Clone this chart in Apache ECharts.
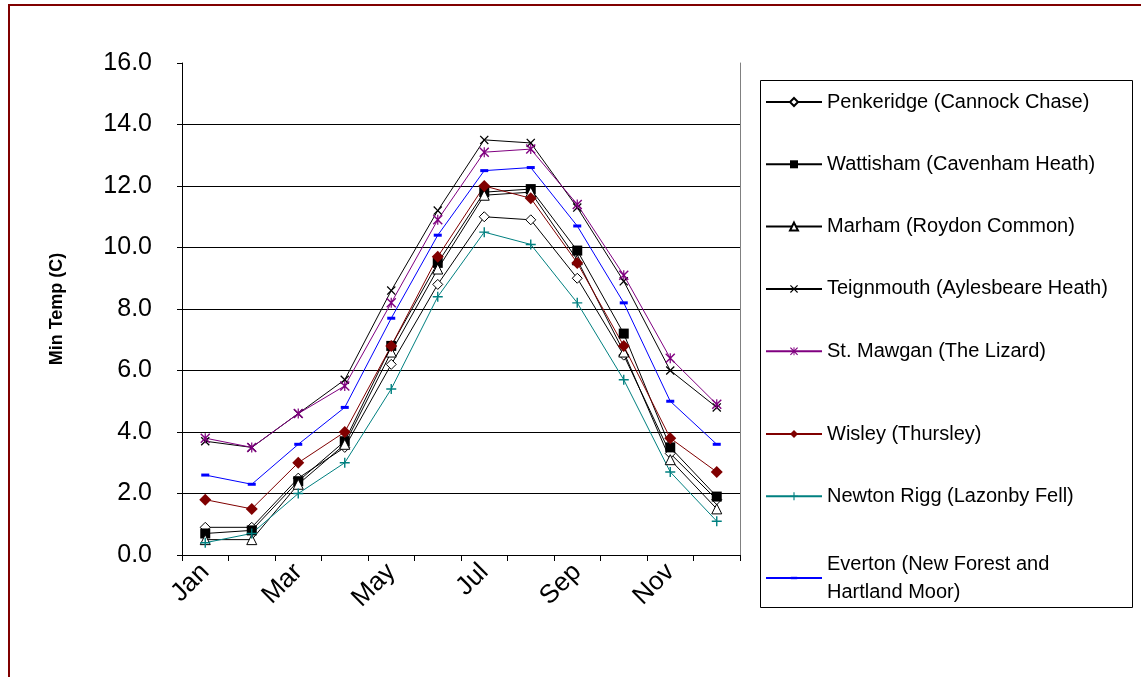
<!DOCTYPE html>
<html>
<head>
<meta charset="utf-8">
<script src="https://cdn.jsdelivr.net/npm/echarts@6/dist/echarts.min.js"></script>
<style>
  html, body { margin: 0; padding: 0; background: #fff; }
  #main { width: 1141px; height: 677px; }
</style>
</head>
<body>
<div id="main"></div>
<script>
// months on the x axis
var months = ['Jan', 'Feb', 'Mar', 'Apr', 'May', 'Jun', 'Jul', 'Aug', 'Sep', 'Oct', 'Nov', 'Dec'];

// monthly minimum temperature (C)
var penkeridge = [0.9, 0.9, 2.5, 3.5, 6.2, 8.8, 11.0, 10.9, 9.0, 6.5, 3.3, 1.8];
var wattisham  = [0.7, 0.8, 2.4, 3.7, 6.8, 9.5, 11.8, 11.9, 9.9, 7.2, 3.5, 1.9];
var marham     = [0.5, 0.5, 2.3, 3.6, 6.6, 9.3, 11.7, 11.8, 9.6, 6.6, 3.1, 1.5];
var teignmouth = [3.7, 3.5, 4.6, 5.7, 8.6, 11.2, 13.5, 13.4, 11.3, 8.9, 6.0, 4.8];
var stMawgan   = [3.8, 3.5, 4.6, 5.5, 8.2, 10.9, 13.1, 13.2, 11.4, 9.1, 6.4, 4.9];
var wisley     = [1.8, 1.5, 3.0, 4.0, 6.8, 9.7, 12.0, 11.6, 9.5, 6.8, 3.8, 2.7];
var newtonRigg = [0.4, 0.7, 2.0, 3.0, 5.4, 8.4, 10.5, 10.1, 8.2, 5.7, 2.7, 1.1];
var everton    = [2.6, 2.3, 3.6, 4.8, 7.7, 10.4, 12.5, 12.6, 10.7, 8.2, 5.0, 3.6];

var names = [
    'Penkeridge (Cannock Chase)',
    'Wattisham (Cavenham Heath)',
    'Marham (Roydon Common)',
    'Teignmouth (Aylesbeare Heath)',
    'St. Mawgan (The Lizard)',
    'Wisley (Thursley)',
    'Newton Rigg (Lazonby Fell)',
    'Everton (New Forest and\nHartland Moor)'
];

var font = 'Liberation Sans, Arial, sans-serif';

// marker shapes (10x10 boxes)
var xMark = 'path://M0,1L1,0L5,4L9,0L10,1L6,5L10,9L9,10L5,6L1,10L0,9L4,5Z';
var starMark = 'path://M0,1L1,0L5,4L9,0L10,1L6,5L10,9L9,10L5,6L1,10L0,9L4,5Z M4.4,0L5.6,0L5.6,10L4.4,10Z';
var plusMark = 'path://M4.3,0L5.7,0L5.7,4.3L10,4.3L10,5.7L5.7,5.7L5.7,10L4.3,10L4.3,5.7L0,5.7L0,4.3L4.3,4.3Z';
// short dash, the two moveTo points keep the box square
var dashMark = 'path://M0,0M10,10M1,3.5L9,3.5L9,6.5L1,6.5Z';

function line(name, data, color, symbol, size, fill) {
    return {
        name: name,
        type: 'line',
        data: data,
        symbol: symbol,
        symbolSize: size,
        showSymbol: true,
        lineStyle: { color: color, width: 1 },
        itemStyle: { color: fill || color, borderColor: color, borderWidth: fill ? 1 : 0 },
        emphasis: { disabled: true }
    };
}

var chart = echarts.init(document.getElementById('main'));

var legendBase = {
    orient: 'vertical',
    left: 765,
    padding: 0,
    itemGap: 34.3,
    itemWidth: 56,
    itemHeight: 10,
    textStyle: { fontFamily: font, fontSize: 20, color: '#000', lineHeight: 28 }
};

var option = {
    animation: false,
    backgroundColor: '#fff',
    textStyle: { fontFamily: font },
    graphic: [
        {   // outer frame
            type: 'rect',
            shape: { x: 9, y: 5, width: 1200, height: 800 },
            style: { fill: null, stroke: '#800000', lineWidth: 2 },
            silent: true
        },
        {   // legend box
            type: 'rect',
            shape: { x: 760.5, y: 80.5, width: 372, height: 527 },
            style: { fill: null, stroke: '#000', lineWidth: 1 },
            silent: true
        }
    ],
    grid: { left: 182, right: 401, top: 63, bottom: 122 },
    legend: [
        Object.assign({}, legendBase, { top: 88, data: names.slice(0, 5) }),
        Object.assign({}, legendBase, { top: 420, data: names.slice(5, 7) }),
        Object.assign({}, legendBase, { top: 550, data: names.slice(7) })
    ],
    xAxis: {
        type: 'category',
        data: months,
        boundaryGap: true,
        axisLine: { lineStyle: { color: '#000', width: 1 } },
        axisTick: { show: true, interval: 0, length: 6, lineStyle: { color: '#000' } },
        axisLabel: {
            interval: 1,
            rotate: 45,
            margin: 13,
            fontSize: 26,
            color: '#000',
            fontFamily: font
        },
        splitLine: { show: false }
    },
    yAxis: [
        {
            type: 'value',
            min: 0,
            max: 16,
            interval: 2,
            name: 'Min Temp (C)',
            nameLocation: 'middle',
            nameGap: 116,
            nameTextStyle: { fontFamily: font, fontSize: 18, fontWeight: 'bold', color: '#000' },
            axisLine: { show: true, lineStyle: { color: '#000' } },
            axisTick: { show: true, length: 5, lineStyle: { color: '#000' } },
            axisLabel: {
                fontSize: 25,
                color: '#000',
                margin: 30,
                fontFamily: font,
                formatter: function (v) { return v.toFixed(1); }
            },
            splitLine: { show: true, showMaxLine: false, lineStyle: { color: '#000', width: 1 } }
        },
        {   // grey right edge of plot
            type: 'value',
            position: 'right',
            min: 0,
            max: 16,
            axisLine: { show: true, lineStyle: { color: '#808080' } },
            axisTick: { show: false },
            axisLabel: { show: false },
            splitLine: { show: false }
        }
    ],
    series: [
        line(names[0], penkeridge, '#000000', 'diamond', 10, '#ffffff'),
        line(names[1], wattisham, '#000000', 'rect', 10),
        line(names[2], marham, '#000000', 'triangle', 10, '#ffffff'),
        line(names[3], teignmouth, '#000000', xMark, 9),
        line(names[4], stMawgan, '#800080', starMark, 10),
        line(names[5], wisley, '#800000', 'diamond', 12),
        line(names[6], newtonRigg, '#008080', plusMark, 10),
        line(names[7], everton, '#0000ff', dashMark, 10)
    ]
};

chart.setOption(option);
</script>
</body>
</html>
